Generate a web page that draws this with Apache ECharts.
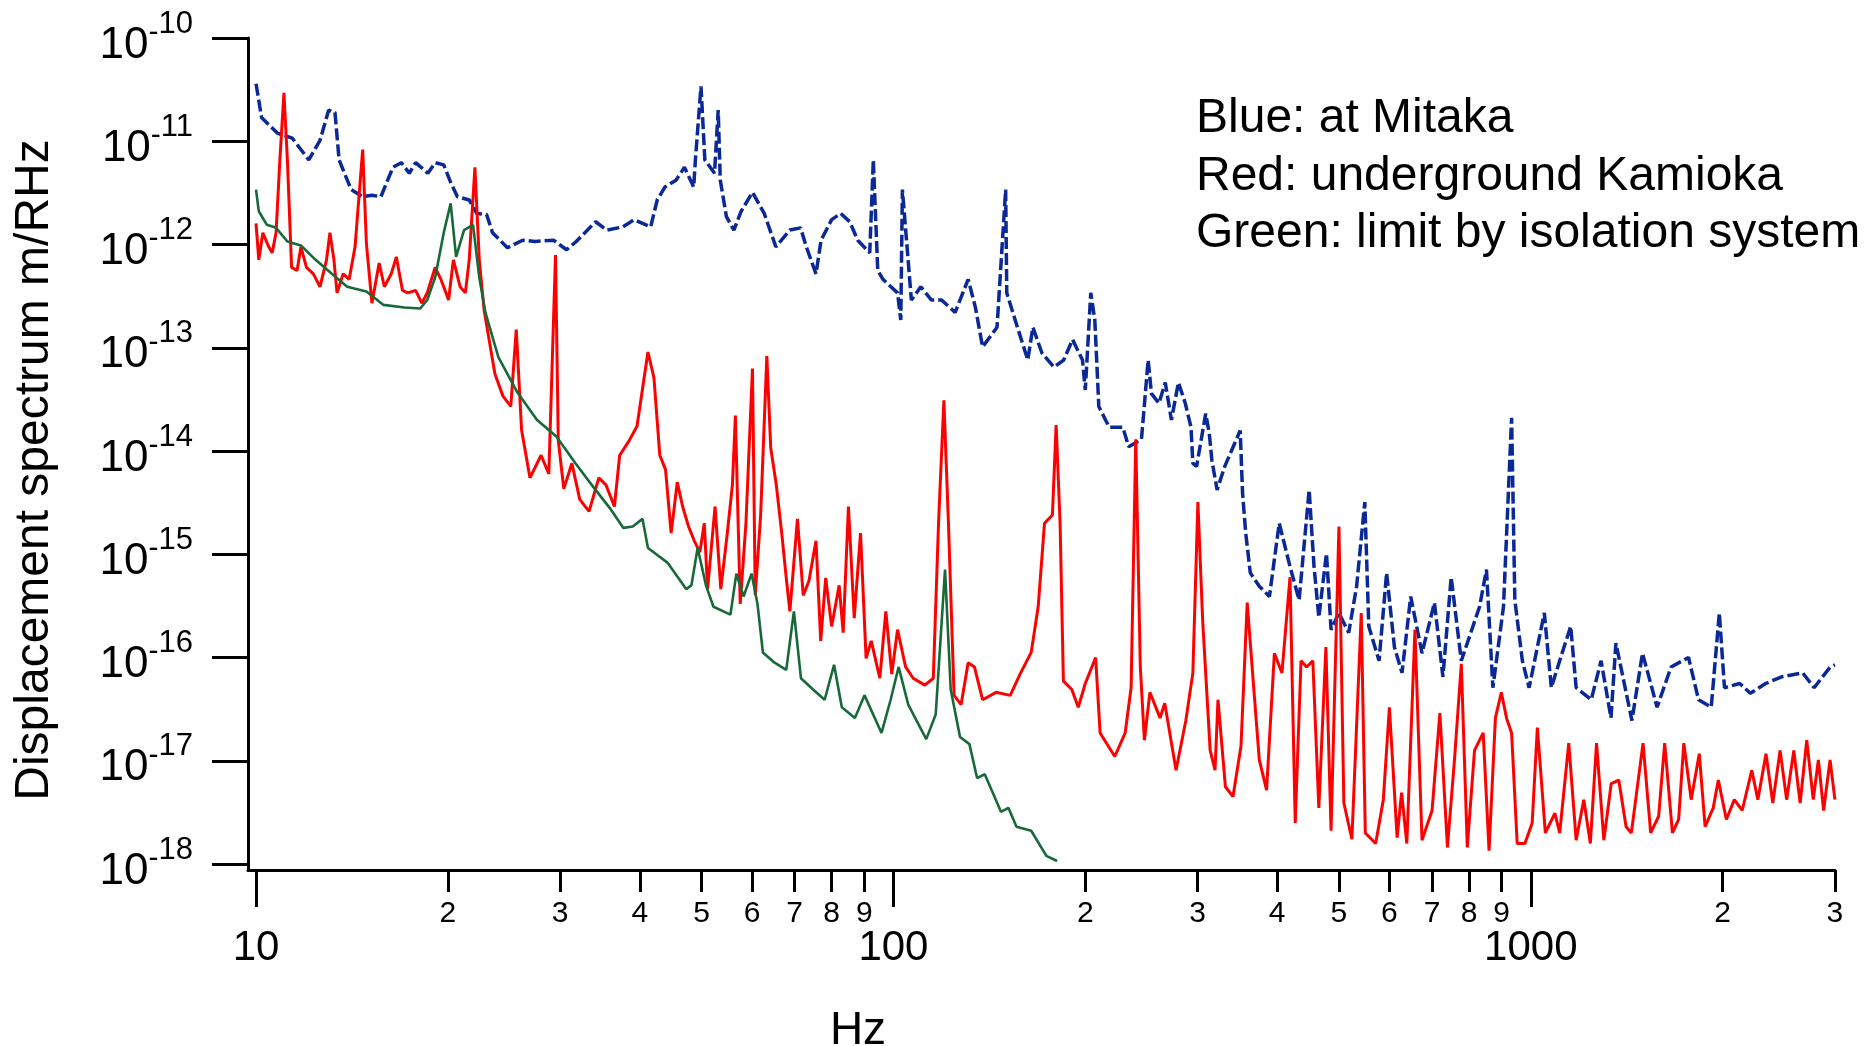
<!DOCTYPE html>
<html>
<head>
<meta charset="utf-8">
<script src="https://cdn.jsdelivr.net/npm/echarts@6/dist/echarts.min.js"></script>
<style>
html,body{margin:0;padding:0;background:#ffffff;}
#chart{width:1864px;height:1046px;}
</style>
</head>
<body>
<div id="chart"></div>
<script>
// ---------------- data ----------------
const blueFreq = [10,10.1,10.2,10.8,11.4,12.1,12.6,13,13.3,13.5,
  14.1,14.7,15.2,15.7,16.4,16.9,17.4,17.8,18.6,19.1,
  19.7,20.2,20.7,21.6,22.2,23,23.5,24.8,26.2,27.4,
  29.3,30.7,31.8,34.1,35.5,37.6,39.2,41.6,42.6,43.8,
  45.6,47,48.6,48.9,49.9,50.6,52.4,53.1,53.5,54.7,
  56.2,57.7,60.1,62.7,65.4,68.8,71.5,73,75.6,77,
  80,82.7,85.4,87.9,91.8,93,94.5,96.3,101.5,102.7,
  103.3,106.7,110.4,114.7,119,125,131,134.5,138,145.4,
  150,150.6,156.5,162.5,165.5,171,178.6,185,191,198,
  200,204,207,209,210,218,229,234,245,251,
  254,261,267,273,280,287,293,295,299,309,
  313,316,322,331,350,353,357,363,375,389,
  403,419,433,449,457,465,478,486,500,518,
  533,549,557,578,594,611,628,648,675,706,
  728,750,778,831,852,872,906,933,944,970,
  994,1050,1077,1110,1155,1178,1244,1289,1336,1360,
  1441,1497,1578,1660,1768,1833,1919,1976,2013,2127,
  2210,2336,2475,2670,2783,2950,3000];
const blueAmp = [3.6e-11,2.5e-11,1.7e-11,1.2e-11,1.07e-11,6.6e-12,1.02e-11,2.0e-11,1.9e-11,6.6e-12,
  3.4e-12,2.9e-12,3.0e-12,2.9e-12,5.6e-12,6.2e-12,4.9e-12,6.2e-12,4.9e-12,6.2e-12,
  5.9e-12,4.0e-12,2.9e-12,2.7e-12,2.0e-12,1.95e-12,1.3e-12,9.3e-13,1.1e-12,1.07e-12,
  1.1e-12,8.9e-13,1.07e-12,1.66e-12,1.38e-12,1.48e-12,1.74e-12,1.48e-12,2.7e-12,3.6e-12,
  4.2e-12,5.6e-12,3.6e-12,6.6e-12,3.4e-11,6.6e-12,4.9e-12,2.0e-11,4.2e-12,1.86e-12,
  1.38e-12,2.1e-12,3.2e-12,2.0e-12,9.5e-13,1.38e-12,1.45e-12,9.5e-13,5.2e-13,1.1e-12,
  1.74e-12,2.0e-12,1.66e-12,1.1e-12,8.3e-13,6.6e-12,5.6e-13,4.6e-13,3.4e-13,1.86e-13,
  3.4e-12,2.9e-13,3.9e-13,2.9e-13,2.9e-13,2.2e-13,4.6e-13,2.45e-13,1.02e-13,1.58e-13,
  3.4e-12,3.4e-13,1.58e-13,7.6e-14,1.58e-13,8.9e-14,6.5e-14,7.6e-14,1.2e-13,7.6e-14,
  3.9e-14,3.4e-13,1.86e-13,5.2e-14,2.7e-14,1.7e-14,1.7e-14,1.1e-14,1.3e-14,7.6e-14,
  3.6e-14,2.9e-14,4.6e-14,2.0e-14,4.6e-14,2.9e-14,1.7e-14,7.6e-15,7.1e-15,2.3e-14,
  1.48e-14,8.1e-15,4.2e-15,7.1e-15,1.58e-14,3.9e-15,1.62e-15,6.6e-16,4.9e-16,3.9e-16,
  2.0e-15,7.6e-16,3.6e-16,4.2e-15,7.6e-16,2.45e-16,1.02e-15,1.86e-16,2.7e-16,1.74e-16,
  4.9e-16,3.2e-15,2.0e-16,9.3e-17,6.6e-16,1.26e-16,7.1e-17,3.9e-16,1.1e-16,3.4e-16,
  6.5e-17,6.0e-16,9.3e-17,3.1e-16,7.1e-16,5.1e-17,3.1e-16,2.1e-14,3.6e-16,9.3e-17,
  5.1e-17,2.7e-16,5.1e-17,9.3e-17,2.0e-16,5.1e-17,3.9e-17,9.3e-17,2.6e-17,1.38e-16,
  2.45e-17,1.1e-16,3.3e-17,8.1e-17,1.0e-16,3.9e-17,3.3e-17,2.7e-16,5.1e-17,5.6e-17,
  4.5e-17,5.6e-17,6.5e-17,7.1e-17,5.1e-17,8.1e-17,8.5e-17];

const redFreq = [10,10.1,10.25,10.47,10.6,10.75,10.9,11.06,11.2,11.37,
  11.6,11.76,12,12.3,12.6,12.9,13.06,13.25,13.4,13.7,
  14,14.3,14.7,14.9,15.2,15.6,15.9,16.3,16.6,16.97,
  17.3,17.8,18.2,18.56,19.1,19.5,20.05,20.4,20.9,21.3,
  21.6,22.05,22.4,22.8,23.7,24.4,25.1,25.6,26.1,26.9,
  28,28.8,29.5,29.8,30.4,31.3,32.2,33.3,34.5,35.4,
  36.5,37.2,38.5,39.6,41.2,42.1,43,43.9,44.8,45.8,
  46.7,47.7,48.7,49.7,50.5,51.1,52.5,53.6,54.8,55.9,
  56.5,57.5,58.7,60.1,60.7,61.9,63.3,64.2,65.5,66.8,
  67.9,68.8,70.7,72.2,73.7,75.6,76.9,78.3,80,82.2,
  83.4,85,86.8,88.8,90.6,92.3,95.2,97.3,99.4,101.5,
  104.5,107.4,112,115.5,117.7,120,122,124.5,127.7,131,
  134,138,144.9,152.5,158,164.5,168.7,172.6,177.6,180,
  182.6,184.8,190.5,195,200,207.6,211,222.5,231,236,
  240,244,247.6,252.6,262,266.5,277.6,287.6,295,300.4,
  305.6,314,319.6,323,331.8,341,351,359,366,375,
  385,396,407,419,427,436,445,455,465,477,
  486,500,509,524,542,550,571,587,600,617,
  627,639,658,675,700,720,740,759,778,795,
  816,842,860,880,899,916,933,952,979,1005,
  1024,1054,1091,1110,1147,1178,1211,1240,1268,1302,
  1337,1374,1411,1438,1500,1542,1587,1622,1668,1706,
  1738,1785,1838,1877,1933,1969,2027,2086,2146,2222,
  2271,2339,2397,2461,2520,2586,2646,2710,2774,2826,
  2880,2948,3000];
const redAmp = [1.6e-12,7.1e-13,1.3e-12,9.5e-13,8.3e-13,1.3e-12,6.6e-12,2.95e-11,6.6e-12,6.0e-13,
  5.6e-13,9.5e-13,6.0e-13,5.2e-13,3.9e-13,7.1e-13,1.3e-12,7.1e-13,3.4e-13,5.2e-13,
  4.6e-13,9.5e-13,8.3e-12,1.02e-12,2.7e-13,6.6e-13,3.9e-13,5.2e-13,7.6e-13,3.6e-13,
  3.4e-13,3.6e-13,2.7e-13,3.4e-13,6.0e-13,4.6e-13,2.9e-13,7.1e-13,3.9e-13,3.4e-13,
  7.1e-13,5.6e-12,7.1e-13,2.3e-13,5.6e-14,3.4e-14,2.7e-14,1.5e-13,1.6e-14,5.5e-15,
  9.1e-15,6.0e-15,7.9e-13,1.26e-14,4.3e-15,7.6e-15,3.4e-15,2.6e-15,5.5e-15,4.7e-15,
  2.9e-15,9.1e-15,1.26e-14,1.74e-14,9.1e-14,5.1e-14,9.1e-15,6.6e-15,1.6e-15,5.0e-15,
  2.9e-15,1.86e-15,1.35e-15,1.05e-15,2.0e-15,4.6e-16,2.9e-15,4.6e-16,1.48e-15,4.7e-15,
  2.2e-14,3.3e-16,2.0e-15,6.3e-14,4.0e-16,2.4e-15,8.3e-14,1.07e-14,4.7e-15,1.6e-15,
  5.9e-16,2.8e-16,2.2e-15,4.0e-16,5.5e-16,1.35e-15,1.45e-16,5.9e-16,2.0e-16,5.0e-16,
  1.74e-16,2.9e-15,2.4e-16,1.6e-15,9.8e-17,1.45e-16,6.3e-17,2.8e-16,6.9e-17,1.86e-16,
  8.1e-17,6.3e-17,5.4e-17,6.3e-17,2.0e-15,3.1e-14,2.0e-15,4.3e-17,3.5e-17,8.9e-17,
  8.1e-17,3.9e-17,4.6e-17,4.3e-17,6.9e-17,1.12e-16,3.1e-16,2.0e-15,2.4e-15,1.78e-14,
  2.0e-15,5.9e-17,4.9e-17,3.3e-17,5.6e-17,1.0e-16,1.86e-17,1.1e-17,1.86e-17,5.1e-17,
  1.3e-14,8.1e-17,1.58e-17,4.6e-17,2.6e-17,3.6e-17,8.1e-18,2.45e-17,7.1e-17,3.2e-15,
  2.3e-16,1.26e-17,8.1e-18,3.9e-17,5.6e-18,4.5e-18,1.38e-17,3.4e-16,7.1e-17,1.02e-17,
  5.2e-18,1.1e-16,7.1e-17,6.0e-16,2.5e-18,9.3e-17,8.1e-17,9.3e-17,3.5e-18,1.26e-16,
  2.1e-18,1.86e-15,3.9e-18,1.74e-18,2.7e-16,2.0e-18,1.58e-18,4.2e-18,3.3e-17,1.8e-18,
  4.9e-18,1.58e-18,1.86e-16,1.7e-18,3.3e-18,2.9e-17,1.45e-18,1.02e-17,8.7e-17,1.45e-18,
  1.26e-17,1.86e-17,1.35e-18,2.6e-17,4.6e-17,2.6e-17,1.86e-17,1.58e-18,1.58e-18,2.5e-18,
  2.1e-17,2.0e-18,3.1e-18,2.0e-18,1.48e-17,1.7e-18,4.2e-18,1.58e-18,1.48e-17,1.7e-18,
  6.0e-18,6.5e-18,2.3e-18,2.0e-18,1.48e-17,2.0e-18,2.9e-18,1.48e-17,2.0e-18,2.7e-18,
  1.48e-17,4.2e-18,1.17e-17,2.3e-18,3.5e-18,6.5e-18,2.7e-18,4.2e-18,3.3e-18,8.1e-18,
  4.2e-18,1.17e-17,3.9e-18,1.26e-17,4.2e-18,1.26e-17,3.9e-18,1.58e-17,4.2e-18,1.02e-17,
  3.3e-18,1.02e-17,4.2e-18];

const greenFreq = [10,10.1,10.4,10.75,11.2,11.76,12.4,13.15,13.9,14.9,
  15.85,17.1,18.1,18.56,19.1,19.7,20.2,20.6,21.2,21.9,
  22.4,22.9,24,25.7,27.6,29.6,31.7,34,35.9,37.7,
  39,40.4,41.2,44.2,47.3,48.2,49.3,50.8,52.2,55.5,
  56.7,58.2,59.9,61.2,62.4,65.1,67.9,69.8,71.6,74.8,
  78,80.7,83,87,90.1,95.8,99,101.9,105.5,112.6,
  116.5,120.5,123,127.2,131.6,135.3,139.1,147.5,151.5,156,
  164.5,173.8,180.6];
const greenAmp = [3.4e-12,2.1e-12,1.55e-12,1.45e-12,1.07e-12,9.8e-13,7.1e-13,5.2e-13,3.9e-13,3.5e-13,
  2.6e-13,2.45e-13,2.4e-13,2.9e-13,4.8e-13,1.3e-12,2.5e-12,7.6e-13,1.38e-12,1.55e-12,
  4.8e-13,2.2e-13,8.1e-14,3.7e-14,2.0e-14,1.38e-14,7.6e-15,4.3e-15,2.8e-15,1.8e-15,
  1.86e-15,2.2e-15,1.15e-15,8.3e-16,4.6e-16,5.0e-16,1.15e-15,5.0e-16,3.1e-16,2.6e-16,
  6.5e-16,3.9e-16,6.5e-16,3.3e-16,1.12e-16,8.9e-17,7.6e-17,2.8e-16,6.3e-17,4.9e-17,
  3.9e-17,8.5e-17,3.3e-17,2.6e-17,4.3e-17,1.86e-17,3.9e-17,8.1e-17,3.5e-17,1.62e-17,
  2.8e-17,7.1e-16,4.9e-17,1.7e-17,1.45e-17,6.8e-18,7.4e-18,3.2e-18,3.5e-18,2.3e-18,
  2.1e-18,1.2e-18,1.07e-18];

// ---------------- ticks and texts ----------------
const yTickExponents = [-18,-17,-16,-15,-14,-13,-12,-11,-10];
const xMajorTicks = [10,100,1000];
const xMinorTicks = [20,30,40,50,60,70,80,90,200,300,400,500,600,700,800,900,2000,3000];
const legendLines = ['Blue: at Mitaka','Red: underground Kamioka','Green: limit by isolation system'];
const xTitle = 'Hz';
const yTitle = 'Displacement spectrum m/RHz';

// ---------------- build ----------------
const SANS = "'Liberation Sans',Arial,sans-serif";
const pairs = (f, a) => f.map((x, i) => [x, a[i]]);
const yTicks = yTickExponents.map(e => Number('1e' + e));
const xLabelValues = xMajorTicks.concat(xMinorTicks).sort((a, b) => a - b);
const X_MIN = 9.714, X_MAX = 3001, Y_MIN = 8.75e-19, Y_MAX = 1e-10;
const axisColor = '#000000';

const chart = echarts.init(document.getElementById('chart'), null, {renderer: 'canvas'});
const option = {
  animation: false,
  backgroundColor: '#ffffff',
  grid: {left: 248, right: 29, top: 38, bottom: 176, outerBoundsMode: 'none', containLabel: false},
  xAxis: [
    {
      type: 'log', logBase: 10, min: X_MIN, max: X_MAX, position: 'bottom',
      axisLine: {show: true, lineStyle: {color: axisColor, width: 3}},
      axisTick: {show: true, customValues: xMajorTicks, length: 37, lineStyle: {color: axisColor, width: 3}},
      minorTick: {show: false},
      splitLine: {show: false},
      axisLabel: {
        show: true, customValues: xLabelValues, margin: 29, color: '#000',
        formatter: v => {
          if (xMajorTicks.indexOf(v) >= 0) return '{M|' + v + '}';
          const d = Math.round(v / Math.pow(10, Math.floor(Math.log10(v) + 1e-9)));
          return '{m|' + d + '}';
        },
        rich: {
          M: {fontFamily: SANS, fontSize: 42, color: '#000', padding: [28, 0, 0, 0]},
          m: {fontFamily: SANS, fontSize: 30, color: '#000'}
        }
      }
    },
    {
      type: 'log', logBase: 10, min: X_MIN, max: X_MAX, position: 'bottom',
      axisLine: {show: false},
      axisTick: {show: true, customValues: xMinorTicks, length: 22, lineStyle: {color: axisColor, width: 3}},
      axisLabel: {show: false},
      splitLine: {show: false}
    }
  ],
  yAxis: {
    type: 'log', logBase: 10, min: Y_MIN, max: Y_MAX, position: 'left',
    axisLine: {show: true, lineStyle: {color: axisColor, width: 3}},
    axisTick: {show: true, customValues: yTicks, length: 36, lineStyle: {color: axisColor, width: 3}},
    splitLine: {show: false},
    axisLabel: {
      show: true, customValues: yTicks, margin: 55, color: '#000',
      formatter: v => {
        const e = Math.round(Math.log10(v));
        return '{b|10}{n|-}{s|' + Math.abs(e) + '}';
      },
      rich: {
        b: {fontFamily: SANS, fontSize: 44, lineHeight: 59, verticalAlign: 'bottom', color: '#000'},
        n: {fontFamily: SANS, fontSize: 30, verticalAlign: 'top', padding: [9, 0, 0, 0], color: '#000'},
        s: {fontFamily: SANS, fontSize: 31, verticalAlign: 'top', color: '#000'}
      }
    }
  },
  series: [
    {
      name: 'Blue', type: 'line', xAxisIndex: 0, data: pairs(blueFreq, blueAmp),
      showSymbol: false, symbol: 'none', smooth: false, z: 2,
      lineStyle: {color: '#0a2896', width: 3.5, type: [12, 4]}
    },
    {
      name: 'Red', type: 'line', xAxisIndex: 0, data: pairs(redFreq, redAmp),
      showSymbol: false, symbol: 'none', smooth: false, z: 3,
      lineStyle: {color: '#ff0000', width: 3}
    },
    {
      name: 'Green', type: 'line', xAxisIndex: 0, data: pairs(greenFreq, greenAmp),
      showSymbol: false, symbol: 'none', smooth: false, z: 4,
      lineStyle: {color: '#17693a', width: 2.6}
    }
  ],
  graphic: [
    {type: 'text', x: 35, y: 470, rotation: Math.PI / 2,
     style: {text: yTitle, fontFamily: SANS, fontSize: 48, fill: '#000', align: 'center', verticalAlign: 'middle'}},
    {type: 'text', x: 858, y: 1031,
     style: {text: xTitle, fontFamily: SANS, fontSize: 46, fill: '#000', align: 'center', verticalAlign: 'middle'}},
    {type: 'text', x: 1196, y: 119,
     style: {text: legendLines[0], fontFamily: SANS, fontSize: 48, fill: '#000', align: 'left', verticalAlign: 'middle'}},
    {type: 'text', x: 1196, y: 177,
     style: {text: legendLines[1], fontFamily: SANS, fontSize: 48, fill: '#000', align: 'left', verticalAlign: 'middle'}},
    {type: 'text', x: 1196, y: 234,
     style: {text: legendLines[2], fontFamily: SANS, fontSize: 48, fill: '#000', align: 'left', verticalAlign: 'middle'}}
  ]
};
chart.setOption(option);
</script>
</body>
</html>
